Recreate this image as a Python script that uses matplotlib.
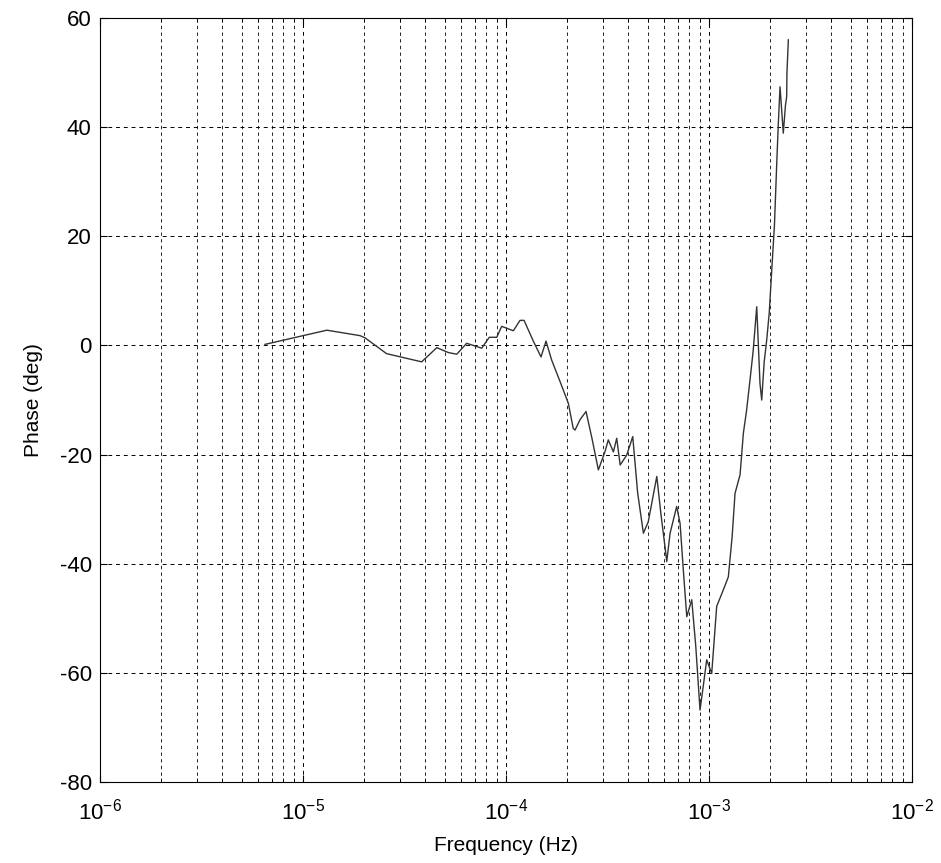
import numpy as np
import matplotlib.pyplot as plt
from matplotlib.ticker import LogLocator, NullFormatter

# --- données ---
freq_hz = [6.5e-6, 1.31e-5, 1.91e-5, 2.02e-5, 2.58e-5, 3.84e-5, 4.56e-5, 5.20e-5,
           5.72e-5, 6.40e-5, 7.59e-5, 8.27e-5, 9.00e-5, 9.52e-5, 1.087e-4, 1.172e-4,
           1.227e-4, 1.363e-4, 1.487e-4, 1.574e-4, 1.679e-4, 1.845e-4, 2.028e-4,
           2.143e-4, 2.188e-4, 2.315e-4, 2.478e-4, 2.65e-4, 2.85e-4, 3.07e-4, 3.19e-4,
           3.38e-4, 3.51e-4, 3.65e-4, 3.93e-4, 4.21e-4, 4.45e-4, 4.75e-4, 5.02e-4,
           5.53e-4, 5.80e-4, 6.07e-4, 6.19e-4, 6.43e-4, 6.93e-4, 7.20e-4, 7.50e-4,
           7.77e-4, 8.22e-4, 8.60e-4, 9.03e-4, 9.40e-4, 9.74e-4, 1.031e-3, 1.091e-3,
           1.17e-3, 1.245e-3, 1.30e-3, 1.343e-3, 1.422e-3, 1.476e-3, 1.53e-3, 1.592e-3,
           1.65e-3, 1.718e-3, 1.783e-3, 1.818e-3, 1.87e-3, 1.924e-3, 1.98e-3, 2.037e-3,
           2.10e-3, 2.156e-3, 2.195e-3, 2.238e-3, 2.322e-3, 2.38e-3, 2.413e-3, 2.42e-3,
           2.459e-3]
phase_deg = [0.2, 2.8, 1.8, 1.4, -1.5, -3.0, -0.4, -1.3,
             -1.6, 0.4, -0.5, 1.5, 1.5, 3.5, 2.7, 4.6,
             4.6, 0.8, -2.1, 0.8, -2.7, -6.6, -10.6,
             -15.2, -15.5, -13.6, -12.1, -17.0, -22.8, -19.5, -17.3,
             -19.5, -17.0, -21.9, -20.1, -16.7, -27.0, -34.4, -32.3,
             -24.0, -31.0, -36.9, -39.6, -34.4, -29.5, -32.6, -42.0,
             -49.7, -46.6, -55.0, -66.8, -62.0, -57.6, -60.1, -47.8,
             -45.0, -42.4, -35.0, -27.1, -23.7, -16.1, -12.0, -6.3,
             -1.0, 7.1, -7.0, -10.0, -3.0, 1.0, 6.0, 13.8,
             22.0, 33.4, 40.7, 47.4, 38.9, 44.0, 45.6, 49.9,
             56.0]

plt.rcParams['font.family'] = ['Liberation Sans', 'DejaVu Sans']
plt.rcParams['axes.unicode_minus'] = False

fig = plt.figure(figsize=(9.41, 8.63), dpi=100)
ax = fig.add_axes([0.1063, 0.0938, 0.8629, 0.8853])

ax.semilogx(freq_hz, phase_deg, color='#333333', linewidth=1.0)

ax.set_xlim(1e-6, 1e-2)
ax.set_ylim(-80, 60)
ax.set_yticks(np.arange(-80, 61, 20))
ax.xaxis.set_major_locator(LogLocator(base=10, numticks=10))
ax.xaxis.set_minor_locator(LogLocator(base=10, subs=np.arange(2, 10), numticks=100))
ax.xaxis.set_minor_formatter(NullFormatter())

ax.grid(True, which='major', linestyle=(0, (4, 4)), color='black', linewidth=0.7)
ax.grid(True, which='minor', axis='x', linestyle=(0, (4, 4)), color='black', linewidth=0.6)

ax.tick_params(which='both', direction='in', top=True, right=True, labelsize=16)
ax.tick_params(which='major', length=5)
ax.tick_params(which='minor', length=3)
ax.tick_params(axis='x', which='major', pad=12)
ax.tick_params(axis='y', which='major', pad=6)
for s in ax.spines.values():
    s.set_linewidth(0.8)

ax.set_xlabel('Frequency (Hz)', fontsize=15, labelpad=8)
ax.set_ylabel('Phase (deg)', fontsize=15, labelpad=12)

fig.savefig('out.png', dpi=100)
